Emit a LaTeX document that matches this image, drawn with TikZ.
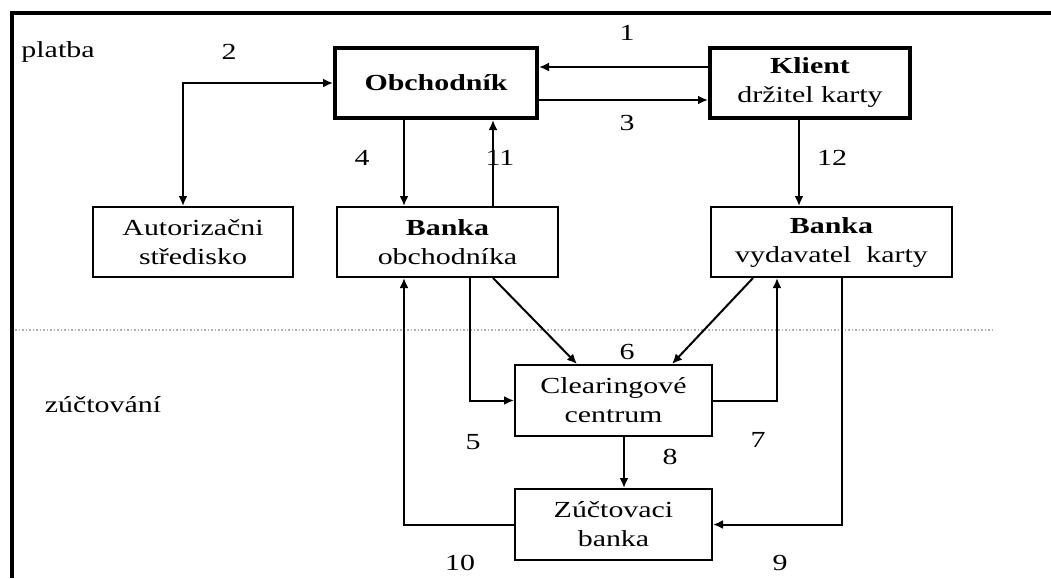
\documentclass[tikz,border=0pt]{standalone}
\usepackage{fontspec}
\setmainfont{Liberation Serif}[FakeStretch=1.3]
\usepackage{tikz}
\usetikzlibrary{arrows.meta,positioning}

\tikzset{
  box/.style={draw, line width=2pt, minimum height=70pt, align=center, inner sep=0pt},
  bigbox/.style={box, line width=4pt},
  num/.style={inner sep=0pt},
}

\begin{document}
\begin{tikzpicture}[x=1pt,y=1pt,>={Latex[length=10pt,width=9pt]},line width=2pt,
    node distance=2cm,on grid,font=\fontsize{23}{29}\selectfont]
   \useasboundingbox (0,0) rectangle (1051,-578);
   % frame and separator
   \draw[line width=4pt] (12,-578) -- (12,-13) -- (1051,-13);
   \draw[gray!60, line width=1.5pt, dotted] (15,-330) -- (993,-330);

   \node[bigbox, minimum width=202pt] (obch) at (436,-83) {\textbf{Obchodník}};
   \node[bigbox, minimum width=200pt] (kl) [right=374pt of obch] {\textbf{Klient}\\držitel karty};
   \node[box, minimum width=221pt] (bobch) [below right=159pt and 11.5pt of obch] {\textbf{Banka}\\obchodníka};
   \node[box, minimum width=200pt] (aut) [left=254.5pt of bobch] {Autorizačni\\středisko};
   \node[box, minimum width=241pt] (bvyd) [right=384pt of bobch] {\textbf{Banka}\\vydavatel\ \ karty};
   \node[box, minimum width=197pt, minimum height=71pt] (clear) [below right=158.5pt and 166pt of bobch] {Clearingové\\centrum};
   \node[box, minimum width=197pt, minimum height=71pt] (zuct) [below=124pt of clear] {Zúčtovaci\\banka};

   \node (platba) at (58,-52) {platba};
   \node (zuctovani) at (103,-405) {zúčtování};

   \path[->]
    ([yshift=16pt]kl.west) edge ([yshift=16pt]obch.east)
    ([yshift=-17pt]obch.east) edge ([yshift=-17pt]kl.west)
    ([xshift=-32pt]obch.south) edge ([xshift=-32pt]obch.south |- bobch.north)
    ([xshift=57pt]obch.south |- bobch.north) edge ([xshift=57pt]obch.south)
    ([xshift=-11pt]kl.south) edge ([xshift=-11pt]kl.south |- bvyd.north)
    ([xshift=45.5pt]bobch.south) edge ([xshift=-36.5pt]clear.north)
    ([xshift=-78.5pt]bvyd.south) edge ([xshift=58.5pt]clear.north)
    ([xshift=10.5pt]clear.south) edge ([xshift=10.5pt]clear.south |- zuct.north);
   \draw[<->] ([xshift=-10pt]aut.north) |- (obch.west);
   \draw[->] ([xshift=22.5pt]bobch.south) |- (clear.west);
   \draw[->] (clear.east) -| ([xshift=-54.5pt]bvyd.south);
   \draw[->] ([xshift=10.5pt]bvyd.south) |- (zuct.east);
   \draw[->] (zuct.west) -| ([xshift=-43.5pt]bobch.south);

   % step numbers
   \node[num] (n1) at (627,-33) {1};
   \node[num] (n2) at (229,-52) {2};
   \node[num] (n3) at (627,-123) {3};
   \node[num] (n4) at (362,-158) {4};
   \node[num] (n11) at (500,-158) {11};
   \node[num] (n12) at (832,-158) {12};
   \node[num] (n5) at (473,-442) {5};
   \node[num] (n6) at (627,-352) {6};
   \node[num] (n7) at (758,-440) {7};
   \node[num] (n8) at (670,-457) {8};
   \node[num] (n9) at (780,-563) {9};
   \node[num] (n10) at (460,-563) {10};
\end{tikzpicture}
\end{document}
